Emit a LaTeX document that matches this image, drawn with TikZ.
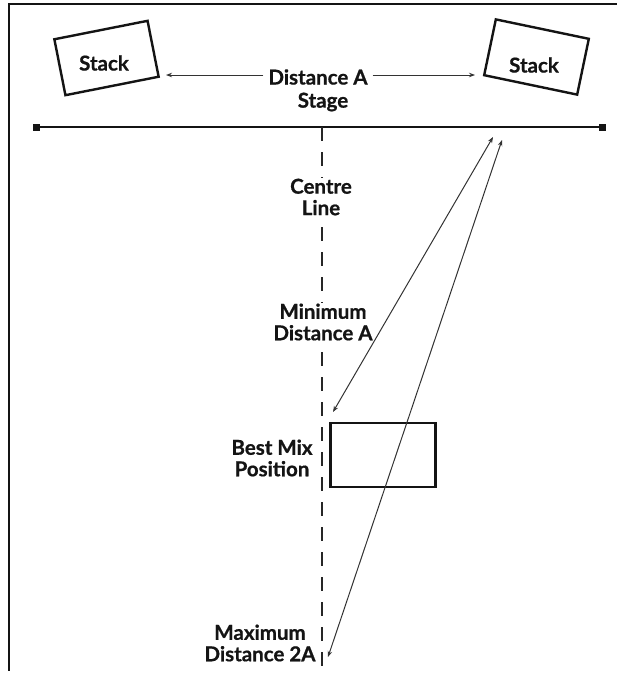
\documentclass[tikz,border=0pt]{standalone}
\usepackage{fontspec}
\setmainfont{Lato}[BoldFeatures={FakeBold=0.7}]
\usetikzlibrary{arrows.meta}
\begin{document}
\begin{tikzpicture}[x=1pt,y=-1pt,
  lbl/.style={font=\fontsize{20.5}{21.5}\selectfont\bfseries, text=black!92, inner sep=1pt, align=center},
  wlbl/.style={lbl, fill=white},
  heavy/.style={line width=2.4pt, draw=black!92},
  stackbox/.style={draw=black!92, line width=2.4pt, minimum width=95pt, minimum height=57pt, inner sep=0pt},
  endsq/.style={fill=black!92, minimum size=7pt, inner sep=0pt},
  arr/.style={line width=1pt, draw=black!80, {Stealth[length=6pt,width=4.5pt]}-{Stealth[length=6pt,width=4.5pt]}},
  sarr/.style={line width=1pt, draw=black!80, -{Stealth[length=6pt,width=4.5pt]}},
  centreline/.style={line width=1.6pt, draw=black!85, dash pattern=on 14pt off 11pt}
]
\useasboundingbox (0,0) rectangle (617,673);
\fill[white] (0,0) rectangle (617,673);

% frame
\coordinate (fTR) at (617,4);
\coordinate (fTL) at (9,4);
\coordinate (fBL) at (9,671);
\draw[heavy, line width=2.6pt] (fTR) -- (fTL) -- (fBL);

% stacks
\node[stackbox, rotate=11.2] (stackL) at (106.5,58) {};
\node[lbl] (stackLt) at (104,63) {Stack};
\node[stackbox, rotate=-11.8] (stackR) at (536.5,57) {};
\node[lbl] (stackRt) at (534,65) {Stack};

% distance A
\node[lbl, inner sep=5pt] (distA) at (318,77) {Distance A};
\coordinate (tipL) at (166,75);
\coordinate (tipR) at (475,75);
\draw[sarr] (distA.west |- tipL) -- (tipL);
\draw[sarr] (distA.east |- tipR) -- (tipR);
\node[lbl] (stage) at (323,102) {Stage};

% stage line
\coordinate (sL) at (36,127);
\coordinate (sR) at (602,127);
\draw[heavy, line width=2.2pt] (sL) -- (sR);
\node[endsq] (sqL) at (sL) {};
\node[endsq] (sqR) at (sR) {};

% centre line
\coordinate (cTop) at (322,127);
\coordinate (cBot) at (322,666);
\draw[centreline] (cTop) -- (cBot);
\node[wlbl] (centre) at (321,197) {Centre\\Line};
\node[wlbl] (mind) at (323,322) {Minimum\\Distance A};

% mix position
\node[draw=black!92, line width=2.5pt, minimum width=105pt, minimum height=64pt, inner sep=0pt] (mix) at (383,455) {};
\node[lbl] (bestmix) at (272,458) {Best Mix\\Position};
\node[lbl] (maxd) at (260,643) {Maximum\\Distance 2A};

% distance arrows
\coordinate (a1t) at (493,137);
\coordinate (a1b) at (333,412);
\coordinate (a2t) at (502,140);
\coordinate (a2b) at (328,657);
\draw[arr] (a1t) -- (a1b);
\draw[arr] (a2t) -- (a2b);
\end{tikzpicture}
\end{document}
